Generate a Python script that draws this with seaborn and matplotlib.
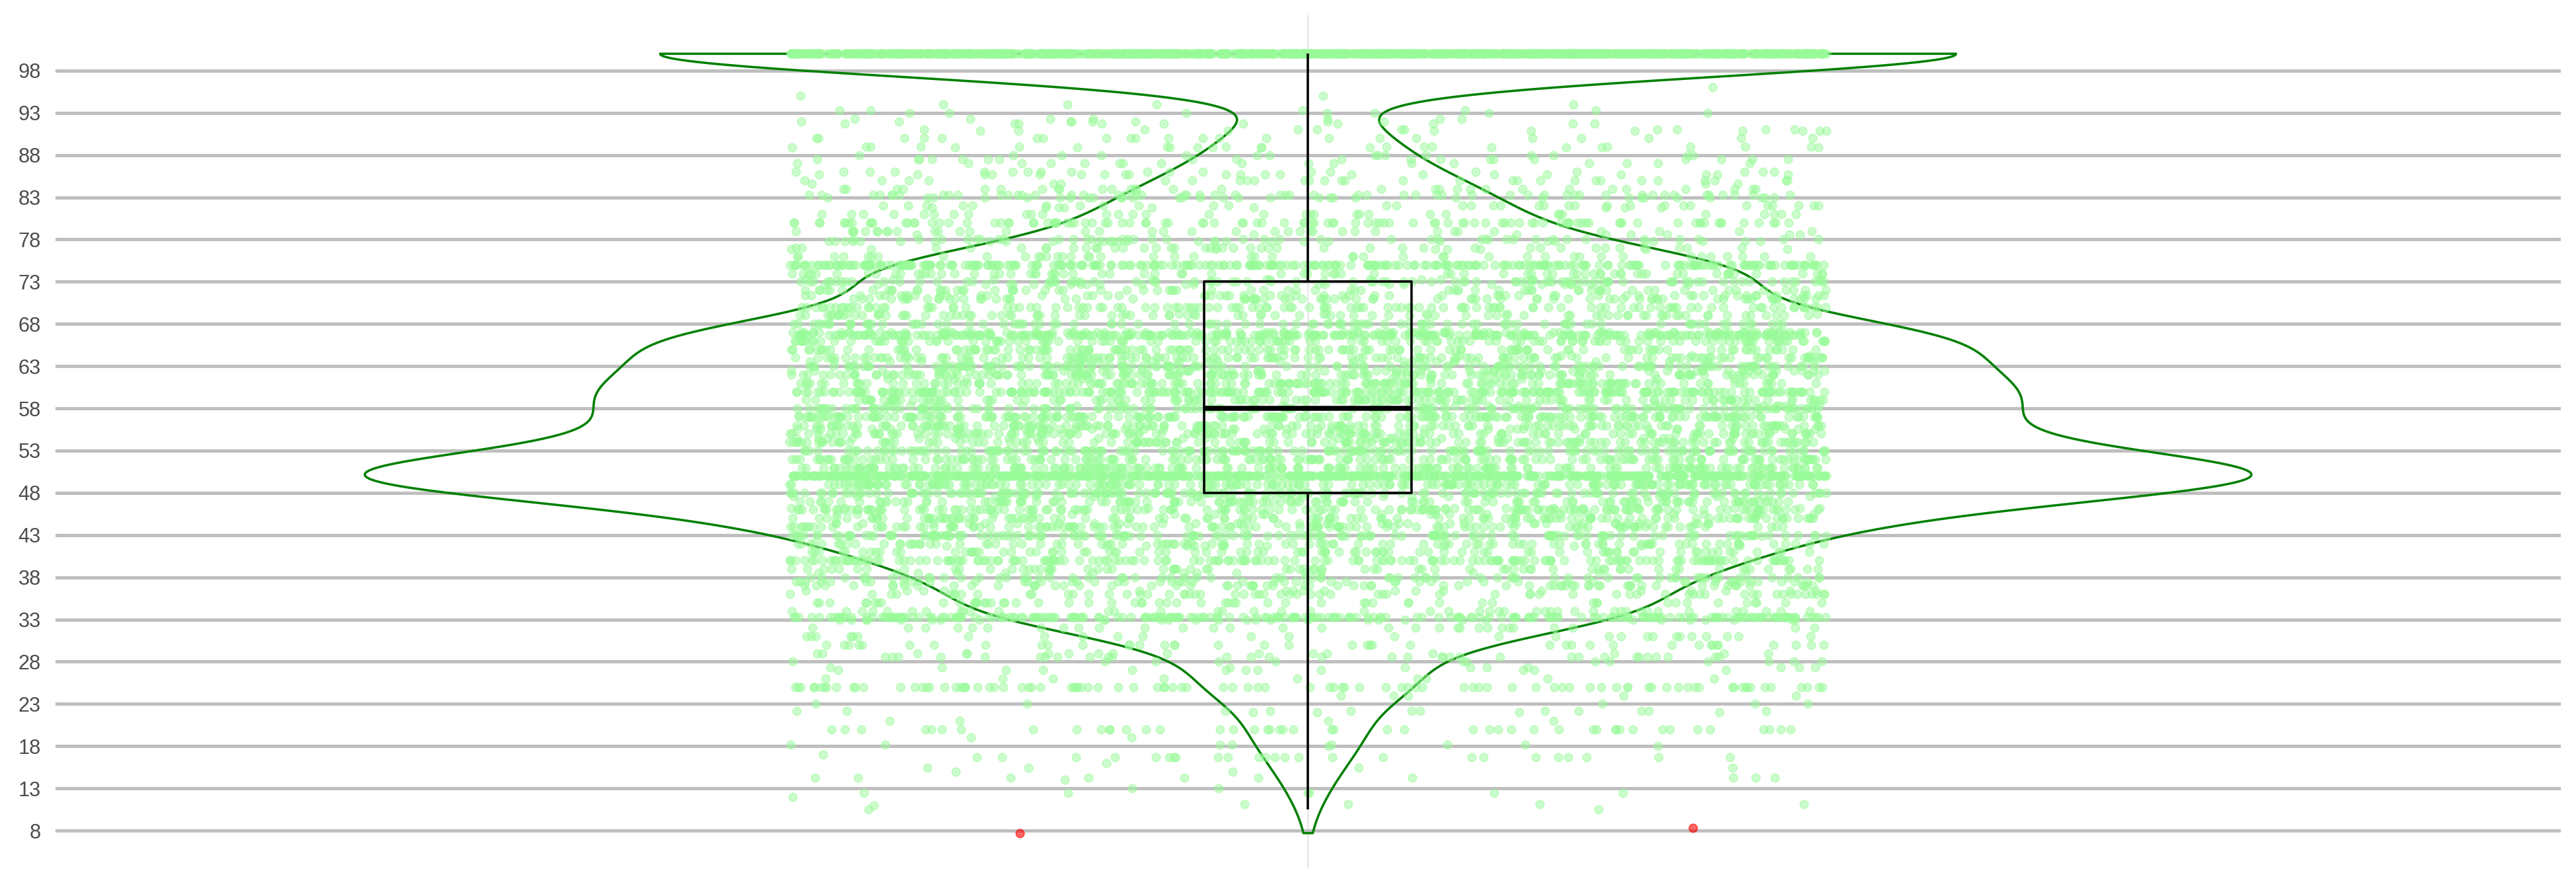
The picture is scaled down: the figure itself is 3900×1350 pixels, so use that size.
import numpy as np
import pandas as pd
import matplotlib
matplotlib.use("Agg")
import matplotlib.pyplot as plt
import seaborn as sns

band_values = [10.5, 11.1, 12.5, 14.3, 15.4,
               16.7, 18.2, 20.0,
               22.2, 25.0,
               27.3, 28.6, 30.0,
               33.3,
               36.4, 37.5, 38.5, 40.0,
               41.7, 42.9, 44.4, 45.5,
               46.2, 47.6, 50.0,
               52.9, 54.5, 55.6,
               57.1, 58.3, 60.0,
               61.5, 62.5, 63.6, 64.3,
               66.7, 69.2, 70.0,
               71.4, 72.7, 73.3, 75.0,
               76.9, 77.8, 78.6, 80.0,
               81.8, 83.3, 84.6,
               85.7, 87.5, 88.9, 90.0,
               90.9, 91.7, 92.3, 93.3,
               100.0]
band_counts = [2, 4, 6, 10, 4,
               25, 7, 46,
               12, 90,
               10, 32, 21,
               220,
               18, 52, 14, 100,
               13, 50, 43, 24,
               17, 25, 450,
               14, 27, 46,
               74, 25, 126,
               13, 56, 27, 10,
               260, 13, 42,
               58, 25, 12, 215,
               8, 31, 8, 70,
               9, 54, 5,
               21, 19, 13, 11,
               10, 10, 7, 5,
               1170]

scatter_values = [11, 12, 13, 14, 15, 16, 17, 18, 19, 20,
                  21, 22, 23, 24, 25, 26, 27, 28, 29, 30,
                  31, 32, 33, 34, 35, 36, 37, 38, 39, 40,
                  41, 42, 43, 44, 45, 46, 47, 48, 49, 50,
                  51, 52, 53, 54, 55, 56, 57, 58, 59, 60,
                  61, 62, 63, 64, 65, 66, 67, 68, 69, 70,
                  71, 72, 73, 74, 75, 76, 77, 78, 79, 80,
                  81, 82, 83, 84, 85, 86, 87, 88, 89, 90,
                  91, 92, 93, 94, 95, 96]
scatter_counts = [1, 1, 2, 1, 2, 1, 1, 2, 2, 1,
                  4, 4, 5, 5, 5, 9, 11, 13, 17, 19,
                  27, 30, 30, 44, 58, 64, 67, 69, 72, 73,
                  88, 99, 106, 114, 126, 150, 132, 170, 195, 200,
                  187, 175, 165, 148, 145, 150, 145, 145, 139, 139,
                  159, 146, 134, 132, 132, 129, 110, 97, 83, 74,
                  74, 72, 85, 75, 70, 45, 41, 38, 37, 34,
                  33, 32, 32, 30, 28, 19, 17, 15, 13, 11,
                  10, 8, 7, 4, 2, 1]

outlier_values = [7.7, 8.3]

y_ticks = [8, 13, 18, 23, 28, 33, 38, 43, 48, 53, 58, 63, 68, 73, 78, 83, 88, 93, 98]

# ---- tables ----
main_scores = np.concatenate([np.repeat(band_values, band_counts),
                              np.repeat(scatter_values, scatter_counts)]).astype(float)
main_df = pd.DataFrame({"score": main_scores})
out_df = pd.DataFrame({"score": np.array(outlier_values, dtype=float)})
all_df = pd.concat([main_df, out_df], ignore_index=True)

sns.set_theme(style="white")
plt.rcParams["font.family"] = ["Liberation Sans", "DejaVu Sans"]

fig = plt.figure(figsize=(13, 4.5), dpi=300)
ax = fig.add_axes([0.0215, 0.0259, 0.9726, 0.9571])
ax.set_axisbelow(True)

sns.violinplot(data=all_df, y="score", cut=0, inner=None, fill=False,
               color="#008000", linecolor="#008000", linewidth=0.85,
               width=0.753, bw_adjust=0.85, gridsize=1200, ax=ax)

np.random.seed(7)
sns.stripplot(data=main_df, y="score", color="#98fb98", jitter=0.207, size=3.0,
              alpha=0.5, linewidth=0.4, edgecolor="#98fb98", ax=ax)
np.random.seed(5)
sns.stripplot(data=out_df, y="score", color="#ff0000", jitter=0.207, size=3.0,
              alpha=0.6, linewidth=0.4, edgecolor="#ff0000", ax=ax)

sns.boxplot(data=all_df, y="score", width=0.0828, fill=False, color="black",
            linecolor="black", linewidth=0.85, showcaps=False, showfliers=False,
            medianprops={"linewidth": 1.8}, ax=ax, zorder=5)

ax.set_xlim(-0.5, 0.5)
ax.set_ylim(3.46, 104.57)
ax.set_yticks(y_ticks)
ax.set_yticklabels([str(t) for t in y_ticks])
ax.set_xticks([0])
ax.set_xticklabels([""])
ax.set_xlabel("")
ax.set_ylabel("")
ax.grid(axis="y", color="#bfbfbf", linewidth=1.2)
ax.grid(axis="x", color="#e8e8e8", linewidth=0.6)
ax.tick_params(axis="both", length=0)
ax.tick_params(axis="y", labelsize=7.4, labelcolor="#4d4d4d", pad=5.3)
for s in ax.spines.values():
    s.set_visible(False)

fig.savefig("out.png", dpi=300, facecolor="white")
